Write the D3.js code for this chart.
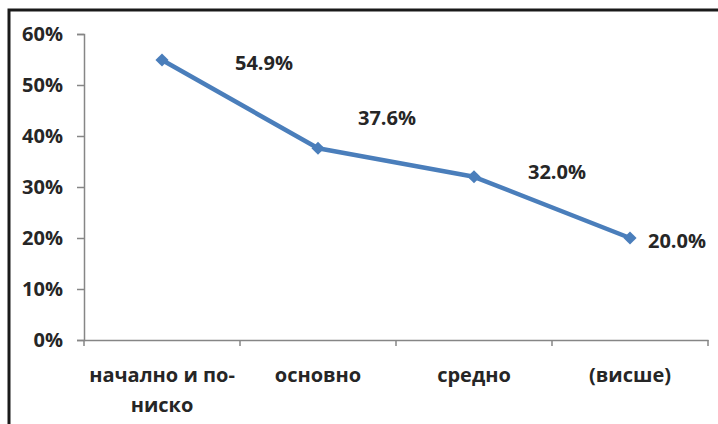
<!DOCTYPE html>
<html>
<head>
<meta charset="utf-8">
<script src="https://cdn.jsdelivr.net/npm/d3@7"></script>
<style>
  body { margin: 0; background: #fff; }
  text { font-family: "Open Sans", sans-serif; font-weight: bold; fill: #262626; }
</style>
</head>
<body>
<svg width="718" height="424"></svg>
<script>
let svg = d3.select("svg");
let width = +svg.attr("width");
let height = +svg.attr("height");

const categories = [["начално и по-", "ниско"], ["основно"], ["средно"], ["(висше)"]];
const values = [0.549, 0.376, 0.32, 0.20];
const valueLabels = ["54.9%", "37.6%", "32.0%", "20.0%"];
const yTicks = [0, 0.1, 0.2, 0.3, 0.4, 0.5, 0.6];
// hand placed label offsets, like the original
const labelDx = [102, 69, 83, 47];
const labelDy = [3, -30, -5, 3];

let fontSize = "20px";
let margin = { left: 84, right: 10, top: 34, bottom: 84 };

let x = d3.scaleBand()
  .domain(d3.range(categories.length))
  .range([margin.left, width - margin.right]);
let y = d3.scaleLinear()
  .domain([0, 0.6])
  .range([height - margin.bottom, margin.top]);

// frame (top and left edges only show in the picture)
svg.append("path")
  .attr("d", `M9,${height} V10 H${width}`)
  .attr("fill", "none")
  .attr("stroke", "#1a1a1a")
  .attr("stroke-width", 3);

let yAxis = svg.append("g")
  .attr("transform", `translate(${margin.left},0)`)
  .call(d3.axisLeft(y).tickValues(yTicks).tickFormat(d3.format(".0%")).tickSize(7).tickPadding(14));

let xAxis = svg.append("g")
  .attr("transform", `translate(0,${y(0)})`)
  .call(d3.axisBottom(x).tickSize(0).tickFormat(""));

// ticks between the categories
xAxis.selectAll(".sep")
  .data(d3.range(categories.length + 1))
  .enter().append("line")
  .attr("x1", d => margin.left + d * x.bandwidth())
  .attr("x2", d => margin.left + d * x.bandwidth())
  .attr("y1", 0).attr("y2", 6);

for (let ax of [yAxis, xAxis]) {
  ax.select(".domain").attr("stroke", "#868686").attr("stroke-width", 1.5);
  ax.selectAll("line").attr("stroke", "#868686").attr("stroke-width", 1.5);
  ax.selectAll("text").attr("fill", "#262626").style("font-size", fontSize);
}

let cx = i => x(i) + x.bandwidth() / 2;

let catLabels = svg.append("g")
  .selectAll("text")
  .data(categories)
  .enter().append("text")
  .attr("text-anchor", "middle")
  .style("font-size", fontSize);
catLabels.selectAll("tspan")
  .data((d, i) => d.map(t => [t, i]))
  .enter().append("tspan")
  .attr("x", d => cx(d[1]))
  .attr("y", (d, j) => y(0) + 42 + j * 30)
  .text(d => d[0]);

let line = d3.line()
  .x((d, i) => cx(i))
  .y(d => y(d));

svg.append("path")
  .datum(values)
  .attr("d", line)
  .attr("fill", "none")
  .attr("stroke", "#4a7ebb")
  .attr("stroke-width", 4.5)
  .attr("stroke-linejoin", "round");

svg.append("g")
  .selectAll("path")
  .data(values)
  .enter().append("path")
  .attr("d", d3.symbol(d3.symbolDiamond2, 110))
  .attr("transform", (d, i) => `translate(${cx(i)},${y(d)})`)
  .attr("fill", "#4a7ebb");

svg.append("g")
  .selectAll("text")
  .data(values)
  .enter().append("text")
  .attr("x", (d, i) => cx(i) + labelDx[i])
  .attr("y", (d, i) => y(d) + labelDy[i])
  .attr("dy", "0.35em")
  .attr("text-anchor", "middle")
  .style("font-size", fontSize)
  .text((d, i) => valueLabels[i]);
</script>
</body>
</html>
